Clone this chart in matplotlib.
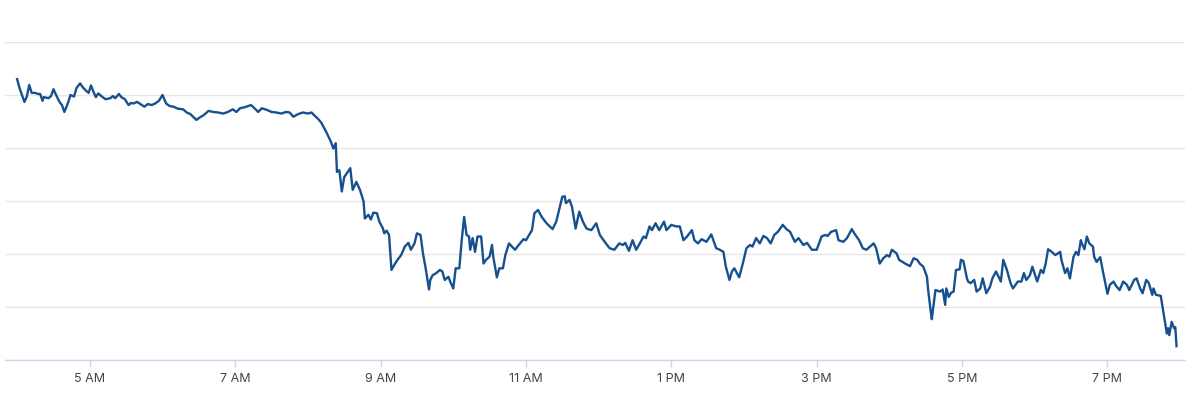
import matplotlib
matplotlib.use('Agg')
import matplotlib.pyplot as plt

# minutes after 4:00 AM, and level in gridline units
minutes = [0, 2, 6, 8, 10, 12, 15, 17, 19, 21, 22, 26, 28, 30, 33, 35, 37, 39, 42, 44,
           47, 49, 52, 54, 57, 59, 61, 63, 65, 67, 70, 73, 77, 79, 81, 84, 86, 89, 92, 94,
           96, 99, 101, 105, 108, 111, 114, 117, 120, 123, 126, 129, 133, 137, 140, 143, 148, 151, 154, 158,
           162, 166, 170, 174, 178, 181, 184, 188, 193, 195, 199, 202, 206, 210, 214, 218, 222, 225, 228, 232,
           236, 240, 243, 246, 248, 251, 255, 259, 261, 263, 264, 266, 268, 270, 273, 275, 277, 280, 283, 286,
           287, 290, 292, 294, 297, 299, 302, 303, 305, 307, 309, 312, 314, 317, 320, 323, 325, 328, 330, 333,
           335, 337, 340, 341, 343, 346, 349, 351, 353, 356, 358, 360, 362, 365, 367, 369, 371, 373, 374, 376,
           378, 380, 383, 385, 387, 390, 392, 393, 396, 398, 401, 403, 406, 408, 411, 413, 418, 420, 425, 427,
           430, 433, 437, 442, 445, 448, 450, 452, 453, 456, 458, 461, 464, 467, 470, 474, 478, 481, 485, 489,
           493, 497, 500, 502, 505, 508, 511, 514, 517, 519, 522, 524, 527, 530, 534, 536, 540, 544, 547, 550,
           553, 557, 559, 562, 565, 569, 573, 577, 580, 583, 585, 588, 590, 592, 596, 599, 602, 605, 607, 610,
           613, 616, 619, 622, 625, 628, 631, 632, 635, 638, 642, 645, 649, 652, 656, 660, 664, 667, 669, 672,
           676, 678, 682, 685, 689, 691, 695, 698, 701, 704, 707, 709, 712, 715, 718, 720, 722, 726, 728, 733,
           737, 740, 743, 745, 748, 751, 752, 754, 755, 757, 758, 762, 764, 766, 767, 769, 771, 773, 775, 778,
           779, 781, 784, 785, 787, 790, 792, 795, 797, 800, 803, 805, 808, 812, 814, 817, 820, 822, 826, 829,
           831, 833, 836, 838, 842, 845, 847, 849, 851, 854, 857, 861, 862, 865, 867, 869, 872, 874, 876, 878,
           879, 881, 883, 885, 888, 889, 891, 894, 896, 898, 900, 902, 905, 907, 910, 913, 916, 918, 922, 924,
           927, 929, 932, 934, 937, 938, 940, 944, 945, 947, 949, 950, 951, 953, 955, 956, 957]
level = [5.30, 5.13, 4.87, 4.97, 5.19, 5.04, 5.04, 5.02, 5.02, 4.89, 4.96, 4.94, 4.98, 5.11, 4.96, 4.87, 4.81, 4.68, 4.85, 5.00,
         4.97, 5.13, 5.22, 5.15, 5.08, 5.04, 5.18, 5.06, 4.96, 5.03, 4.97, 4.92, 4.94, 4.98, 4.94, 5.02, 4.96, 4.92, 4.81, 4.85,
         4.84, 4.87, 4.84, 4.78, 4.83, 4.81, 4.84, 4.89, 5.00, 4.84, 4.79, 4.78, 4.74, 4.73, 4.67, 4.64, 4.53, 4.58, 4.62, 4.70,
         4.68, 4.67, 4.65, 4.68, 4.73, 4.68, 4.75, 4.77, 4.81, 4.77, 4.68, 4.75, 4.72, 4.68, 4.67, 4.65, 4.68, 4.67, 4.59, 4.64,
         4.67, 4.65, 4.67, 4.60, 4.56, 4.48, 4.31, 4.12, 3.99, 4.09, 3.55, 3.58, 3.18, 3.45, 3.55, 3.62, 3.21, 3.36, 3.21, 2.99,
         2.67, 2.74, 2.65, 2.78, 2.77, 2.61, 2.48, 2.39, 2.44, 2.36, 1.70, 1.82, 1.89, 1.98, 2.14, 2.21, 2.08, 2.20, 2.39, 2.36,
         2.01, 1.76, 1.33, 1.51, 1.60, 1.64, 1.70, 1.67, 1.51, 1.57, 1.45, 1.35, 1.73, 1.73, 2.26, 2.70, 2.36, 2.33, 2.08, 2.30,
         2.04, 2.33, 2.33, 1.82, 1.89, 1.95, 2.17, 1.95, 1.56, 1.73, 1.73, 1.98, 2.20, 2.15, 2.08, 2.14, 2.28, 2.26, 2.45, 2.77,
         2.83, 2.70, 2.58, 2.47, 2.61, 2.89, 3.08, 3.09, 2.96, 3.02, 2.89, 2.48, 2.80, 2.61, 2.48, 2.45, 2.58, 2.36, 2.23, 2.11,
         2.08, 2.20, 2.17, 2.21, 2.06, 2.26, 2.08, 2.20, 2.33, 2.30, 2.52, 2.45, 2.58, 2.45, 2.61, 2.45, 2.55, 2.52, 2.52, 2.26,
         2.33, 2.45, 2.26, 2.20, 2.28, 2.23, 2.37, 2.11, 2.08, 2.04, 1.76, 1.51, 1.67, 1.73, 1.56, 1.82, 2.11, 2.17, 2.14, 2.30,
         2.20, 2.34, 2.30, 2.20, 2.36, 2.42, 2.52, 2.55, 2.47, 2.42, 2.23, 2.30, 2.17, 2.21, 2.08, 2.08, 2.33, 2.36, 2.34, 2.42,
         2.45, 2.26, 2.23, 2.30, 2.47, 2.39, 2.26, 2.11, 2.08, 2.14, 2.20, 2.11, 1.82, 1.92, 1.98, 1.95, 2.08, 2.01, 1.89, 1.82,
         1.77, 1.92, 1.89, 1.82, 1.76, 1.57, 1.32, 0.94, 0.77, 1.13, 1.32, 1.29, 1.33, 1.04, 1.35, 1.19, 1.27, 1.29, 1.70, 1.71,
         1.89, 1.87, 1.54, 1.48, 1.45, 1.51, 1.29, 1.35, 1.54, 1.26, 1.38, 1.54, 1.67, 1.48, 1.89, 1.70, 1.45, 1.35, 1.48, 1.48,
         1.64, 1.51, 1.60, 1.76, 1.48, 1.70, 1.64, 1.82, 2.09, 2.04, 1.98, 2.04, 1.89, 1.64, 1.73, 1.54, 1.95, 2.04, 1.98, 2.26,
         2.19, 2.09, 2.33, 2.20, 2.14, 1.95, 1.85, 1.94, 1.70, 1.48, 1.25, 1.42, 1.48, 1.40, 1.32, 1.48, 1.42, 1.32, 1.51, 1.54,
         1.35, 1.26, 1.51, 1.46, 1.23, 1.35, 1.23, 1.21, 1.07, 0.79, 0.50, 0.60, 0.47, 0.72, 0.60, 0.62, 0.26]

tick_minutes = [60, 180, 300, 420, 540, 660, 780, 900]
tick_labels = ['5 AM', '7 AM', '9 AM', '11 AM', '1 PM', '3 PM', '5 PM', '7 PM']

plt.rcParams['font.family'] = ['Inter', 'DejaVu Sans']

fig = plt.figure(figsize=(12, 3.93), dpi=100)
ax = fig.add_axes([5 / 1200, 1 - 360 / 393, 1180 / 1200, 318 / 393])

ax.plot(minutes, level, color='#17508f', linewidth=1.7, solid_joinstyle='round', zorder=3)

ax.set_xlim(-10, 964)
ax.set_ylim(0, 6)
ax.set_yticks(range(0, 7))
ax.set_yticklabels([])
ax.tick_params(axis='y', length=0)
ax.grid(axis='y', color='#e6e6e6', linewidth=1)
ax.set_axisbelow(True)

ax.set_xticks(tick_minutes)
ax.set_xticklabels(tick_labels, fontsize=9, color='#444444')
ax.tick_params(axis='x', length=5, width=1, color='#ccd6eb', pad=4)

for side in ['top', 'left', 'right']:
    ax.spines[side].set_visible(False)
ax.spines['bottom'].set_color('#ccd6eb')
ax.spines['bottom'].set_linewidth(1)

fig.savefig('out.png', dpi=100, facecolor='white')
